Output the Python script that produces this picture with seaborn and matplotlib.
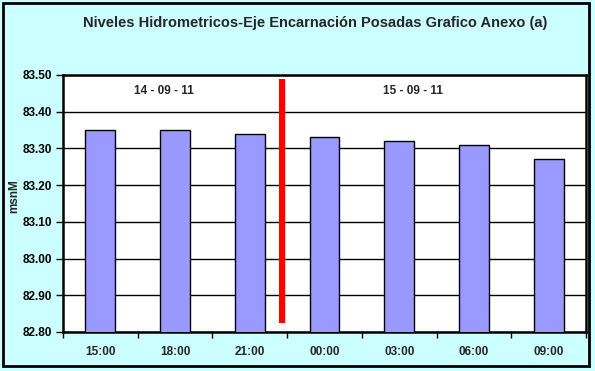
import matplotlib
matplotlib.use("Agg")
import matplotlib.pyplot as plt
import seaborn as sns
import pandas as pd
from matplotlib.patches import Rectangle
from matplotlib.ticker import MultipleLocator, FixedLocator

hours = ["15:00", "18:00", "21:00", "00:00", "03:00", "06:00", "09:00"]
levels = [83.35, 83.35, 83.34, 83.33, 83.32, 83.31, 83.27]
dates = ["14 - 09 - 11", "15 - 09 - 11"]

sns.set_theme(style="white")
plt.rcParams['font.family'] = ['Liberation Sans', 'DejaVu Sans']

df = pd.DataFrame({"hora": hours, "nivel": levels})

fig = plt.figure(figsize=(5.95, 3.71), dpi=100, facecolor="#CCFFFF")
ax = fig.add_axes([63/595, 1-332/371, (586-63)/595, (332-75)/371])
ax.set_facecolor("white")

sns.barplot(data=df, x="hora", y="nivel", color="#9999FF", saturation=1,
            edgecolor="black", linewidth=1, width=0.4, ax=ax, zorder=3)

ax.set_ylim(82.80, 83.50)
ax.set_xlim(-0.5, len(hours) - 0.5)
ax.yaxis.set_major_locator(MultipleLocator(0.1))
ax.yaxis.set_major_formatter(matplotlib.ticker.FormatStrFormatter("%.2f"))
ax.grid(axis="y", color="black", linewidth=1, zorder=0)
ax.set_axisbelow(True)

for s in ax.spines.values():
    s.set_color("black")
    s.set_linewidth(1.8)

ax.tick_params(axis="y", direction="out", length=5, width=1, colors="black",
               labelsize=8.5, pad=3, left=True)
ax.tick_params(axis="x", which="major", length=0, labelsize=8.5, pad=10)
ax.xaxis.set_minor_locator(FixedLocator([i - 0.5 for i in range(len(hours) + 1)]))
ax.tick_params(axis="x", which="minor", direction="out", length=4, width=1,
               colors="black", bottom=True)
for lab in ax.get_xticklabels() + ax.get_yticklabels():
    lab.set_fontweight("bold")

ax.set_xlabel("")
ax.set_ylabel("msnM", fontsize=8.5, fontweight="bold")
ax.yaxis.set_label_coords(-43/523, 0.53)

# separator between days
ax.plot([2.43, 2.43], [82.825, 83.49], color="red", linewidth=4.5, zorder=4,
        solid_capstyle="butt")
ax.text(0.85, 83.456, dates[0], ha="center", va="center", fontsize=8.5,
        fontweight="bold", zorder=5)
ax.text(4.18, 83.456, dates[1], ha="center", va="center", fontsize=8.5,
        fontweight="bold", zorder=5)

fig.text(315/595, 1-23/371, "Niveles Hidrometricos-Eje Encarnación Posadas Grafico Anexo (a)",
         ha="center", va="center", fontsize=10.5, fontweight="bold")

fig.patches.append(Rectangle((3/595, 5/371), 586/595, 363/371, transform=fig.transFigure,
                             fill=False, edgecolor="black", linewidth=2))

fig.savefig("out.png", dpi=100, facecolor=fig.get_facecolor())
